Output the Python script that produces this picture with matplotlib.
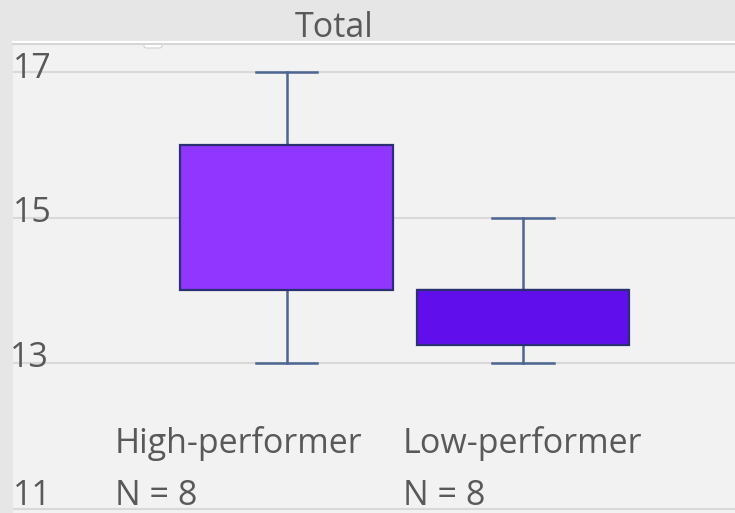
import matplotlib
matplotlib.use("Agg")
import matplotlib.pyplot as plt
import matplotlib.transforms as mtransforms
from matplotlib.patches import FancyBboxPatch

# ---- data ----
categories = ["High-performer", "Low-performer"]
n_labels = ["N = 8", "N = 8"]
whisker_low = [13.0, 13.0]
q1 = [14.0, 13.25]
median = [15.0, 14.0]
q3 = [16.0, 14.0]
whisker_high = [17.0, 15.0]
yticks = [11, 13, 15, 17]
title = "Total"

box_colors = ["#9036FF", "#600EEB"]
text_color = "#595959"
font = "Open Sans"
fs = 24.5

W, H = 735, 513
fig = plt.figure(figsize=(W / 100, H / 100), dpi=100)
fig.patch.set_facecolor("#e6e6e6")

# axes: panel from x=13 to right edge, y=42 to bottom
ax = fig.add_axes([13 / W, 0, (W - 13) / W, (H - 42) / H])
ax.set_facecolor("#f2f2f2")

px_per_unit = 72.75
ytop = 17 + 30 / px_per_unit
ybot = ytop - (H - 42) / px_per_unit
ax.set_ylim(ybot, ytop)

xpx_per_unit = 236.5
xleft = 1 - (286.5 - 13) / xpx_per_unit
xright = 2 + (W - 523) / xpx_per_unit

for s in ax.spines.values():
    s.set_visible(False)

positions = [1, 2]
stats = []
for i, c in enumerate(categories):
    stats.append(dict(label=c, whislo=whisker_low[i], q1=q1[i], med=median[i],
                      q3=q3[i], whishi=whisker_high[i], fliers=[]))

bp = ax.bxp(stats, positions=positions, widths=0.9, capwidths=0.262,
            patch_artist=True, showfliers=False, manage_ticks=False,
            boxprops=dict(edgecolor="#2b2f74", linewidth=1.6),
            medianprops=dict(color="#2b2f74", linewidth=1.6),
            whiskerprops=dict(color="#4d6591", linewidth=1.8),
            capprops=dict(color="#4d6591", linewidth=1.8))
for patch, col in zip(bp["boxes"], box_colors):
    patch.set_facecolor(col)
    patch.set_zorder(3)

ax.set_xlim(xleft, xright)
ax.set_xticks([])
ax.set_yticks(yticks)
ax.tick_params(axis="y", length=0, labelleft=False)
ax.grid(axis="y", color="#d9d9d9", linewidth=1.5, zorder=0)
ax.set_axisbelow(True)

# y tick labels drawn inside the panel, left-aligned, baseline just below grid
ylabel_dy_px = [-3, 4, 5, 6]
ylabel_dx_px = [0, -3, 0, 0]
for t, dy, dx in zip(yticks, ylabel_dy_px, ylabel_dx_px):
    trans = mtransforms.blended_transform_factory(ax.transAxes, ax.transData) + \
        mtransforms.ScaledTranslation(dx / 100, -dy / 100, fig.dpi_scale_trans)
    ax.text(0, t, str(t), transform=trans, ha="left", va="baseline",
            fontsize=fs, color=text_color, family=font)

# category labels (left aligned) below the boxes
cat_x_px = [115, 403]
for c, n, xp in zip(categories, n_labels, cat_x_px):
    fig.text(xp / W, 1 - 453 / H, c, ha="left", va="baseline",
             fontsize=fs, color=text_color, family=font)
    fig.text(xp / W, 1 - 505 / H, n, ha="left", va="baseline",
             fontsize=fs, color=text_color, family=font)

fig.text(334 / W, 1 - 37 / H, title, ha="center", va="baseline",
         fontsize=fs, color=text_color, family=font)

# top border of panel: white line with gray line below
fig.add_artist(plt.Line2D([13 / W, 1], [1 - 41.5 / H] * 2, color="white", linewidth=1.5))
fig.add_artist(plt.Line2D([13 / W, 1], [1 - 44 / H] * 2, color="#d6d6d6", linewidth=1.5))
# small handle tab
fig.add_artist(FancyBboxPatch((144 / W, 1 - 48 / H), 18 / W, 6 / H,
                              boxstyle="round,pad=0,rounding_size=0.004",
                              transform=fig.transFigure, facecolor="white",
                              edgecolor="#d0d0d0", linewidth=0.8))

fig.savefig("out.png", dpi=100, facecolor=fig.get_facecolor())
